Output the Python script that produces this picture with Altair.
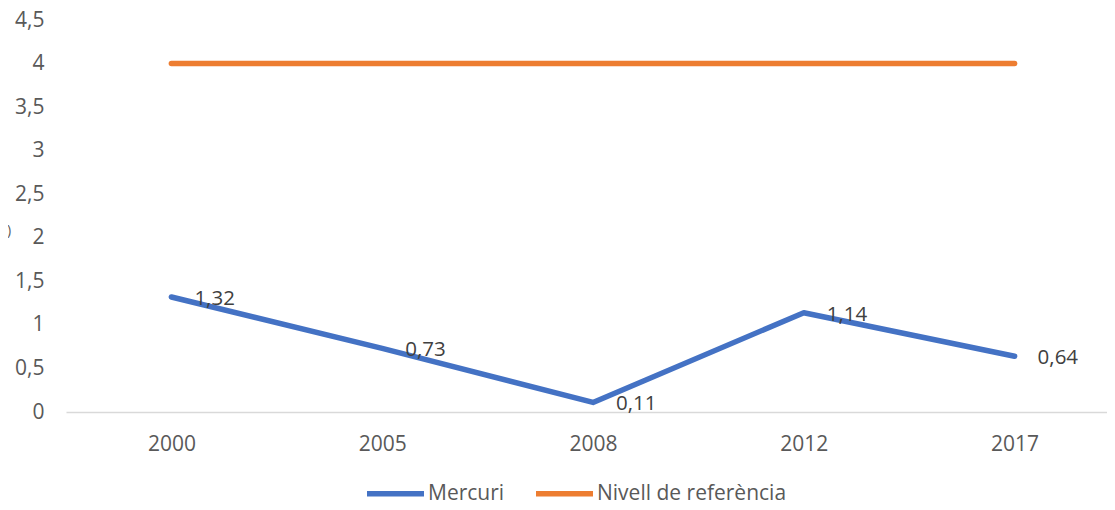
import altair as alt
import pandas as pd

years = ["2000", "2005", "2008", "2012", "2017"]
mercuri = [1.32, 0.73, 0.11, 1.14, 0.64]
referencia = [4, 4, 4, 4, 4]
series_names = ["Mercuri", "Nivell de referència"]
series_colors = ["#4472C4", "#ED7D31"]
y_ticks = [0, 0.5, 1, 1.5, 2, 2.5, 3, 3.5, 4, 4.5]

rows = []
for y, v in zip(years, mercuri):
    rows.append({"any": y, "valor": v, "serie": series_names[0],
                 "etiqueta": f"{v:.2f}".replace(".", ",")})
for y, v in zip(years, referencia):
    rows.append({"any": y, "valor": v, "serie": series_names[1], "etiqueta": ""})
df = pd.DataFrame(rows)

FONT = "Open Sans"
GRAY = "#595959"
PLOT_W = 1041
X_RANGE = 1054

x_scale = alt.Scale(paddingOuter=0.5, range=[0, X_RANGE])

x_enc = alt.X("any:O", sort=years, title=None, scale=x_scale,
              axis=alt.Axis(labelAngle=0, labelFontSize=21, labelColor=GRAY,
                            labelFont=FONT, ticks=False, domainColor="#D9D9D9",
                            domainWidth=1.5, labelPadding=21, grid=False))
y_enc = alt.Y("valor:Q", title=None,
              scale=alt.Scale(domain=[0, 4.5], nice=False),
              axis=alt.Axis(values=y_ticks, labelFontSize=21, labelColor=GRAY,
                            labelFont=FONT, ticks=False, domain=False, grid=False,
                            labelPadding=22,
                            labelExpr="replace(format(datum.value, ''), '.', ',')"))

lines = alt.Chart(df).mark_line(strokeWidth=5.5, strokeCap="round", strokeJoin="round").encode(
    x=x_enc,
    y=y_enc,
    color=alt.Color("serie:N", sort=series_names,
                    scale=alt.Scale(domain=series_names, range=series_colors),
                    legend=alt.Legend(title=None, orient="none", direction="horizontal",
                                      legendX=298, legendY=442,
                                      symbolType="stroke", symbolSize=3249,
                                      symbolStrokeWidth=5.5, labelFontSize=21,
                                      labelFont=FONT, labelColor=GRAY, labelLimit=400,
                                      labelOffset=1, columnPadding=20)),
)

labels = alt.Chart(df[df["serie"] == series_names[0]]).mark_text(
    align="left", baseline="middle", dx=23, dy=2, fontSize=20.5, font=FONT, color="#404040"
).encode(
    x=alt.X("any:O", sort=years, scale=x_scale),
    y=alt.Y("valor:Q"),
    text="etiqueta:N",
)

stray = alt.Chart(pd.DataFrame({"t": [")"]})).mark_text(
    fontSize=14, font=FONT, color=GRAY, align="left", baseline="middle"
).encode(x=alt.value(-59), y=alt.value(211), text="t:N")

chart = alt.layer(lines, labels, stray).properties(
    width=PLOT_W, height=392,
    autosize=alt.AutoSizeParams(type="none"),
    padding={"left": 58, "top": 12, "right": 0, "bottom": 90},
).configure_view(stroke=None)

chart.save("out.html", embed_options={"renderer": "svg", "actions": False})
